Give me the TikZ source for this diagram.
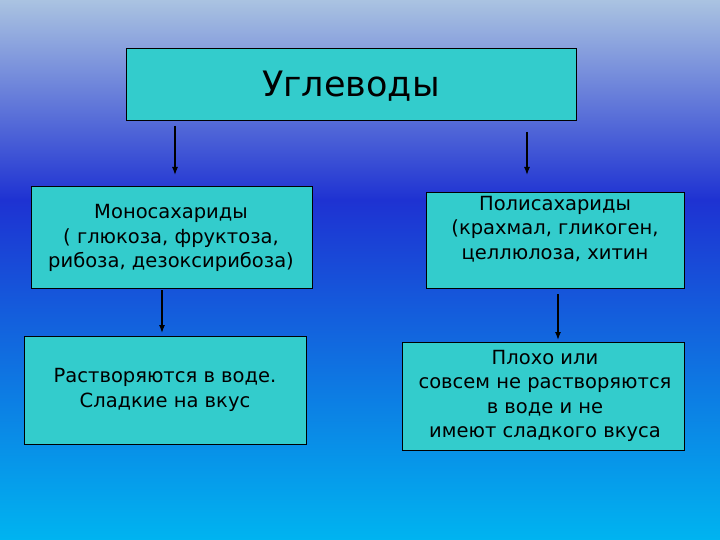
\documentclass[tikz,border=0pt]{standalone}
\usepackage{fontspec}
\setmainfont{DejaVu Sans}
\usetikzlibrary{arrows.meta}
\begin{document}
\begin{tikzpicture}[x=1pt,y=-1pt,
  box/.style={draw=black,fill={rgb,255:red,51;green,204;blue,204},inner sep=0pt,align=center},
  txt/.style={font=\fontsize{19.5}{24.5}\selectfont,align=center},
  arr/.style={-{Latex[length=8pt,width=6pt]},line width=1.3pt}]
\useasboundingbox (0,0) rectangle (720,540);
\shade[top color={rgb,255:red,170;green,195;blue,225},bottom color={rgb,255:red,30;green,50;blue,210}] (0,0) rectangle (720,200);
\shade[top color={rgb,255:red,30;green,50;blue,210},bottom color={rgb,255:red,0;green,180;blue,240}] (0,200) rectangle (720,540);
\draw[box] (126,48) rectangle (576,120);
\node[txt,font=\fontsize{35}{40}\selectfont] (t) at (351,86) {Углеводы};
\draw[box] (31,186) rectangle (312,288);
\node[txt] (m) at (171,238) {Моносахариды\\( глюкоза, фруктоза,\\рибоза, дезоксирибоза)};
\draw[box] (426,192) rectangle (684,288);
\node[txt] (p) at (555,229) {Полисахариды\\(крахмал, гликоген,\\целлюлоза, хитин};
\draw[box] (24,336) rectangle (306,444);
\node[txt] (r) at (165,390) {Растворяются в воде.\\Сладкие на вкус};
\draw[box] (402,342) rectangle (684,450);
\node[txt] (n) at (545,396) {Плохо или\\совсем не растворяются\\в воде и не\\имеют сладкого вкуса};
\coordinate (a1) at (175,126); \coordinate (b1) at (175,175);
\coordinate (a2) at (527,132); \coordinate (b2) at (527,175);
\coordinate (a3) at (162,290); \coordinate (b3) at (162,333);
\coordinate (a4) at (558,294); \coordinate (b4) at (558,340);
\draw[arr] (a1) -- (b1);
\draw[arr] (a2) -- (b2);
\draw[arr] (a3) -- (b3);
\draw[arr] (a4) -- (b4);
\end{tikzpicture}
\end{document}
